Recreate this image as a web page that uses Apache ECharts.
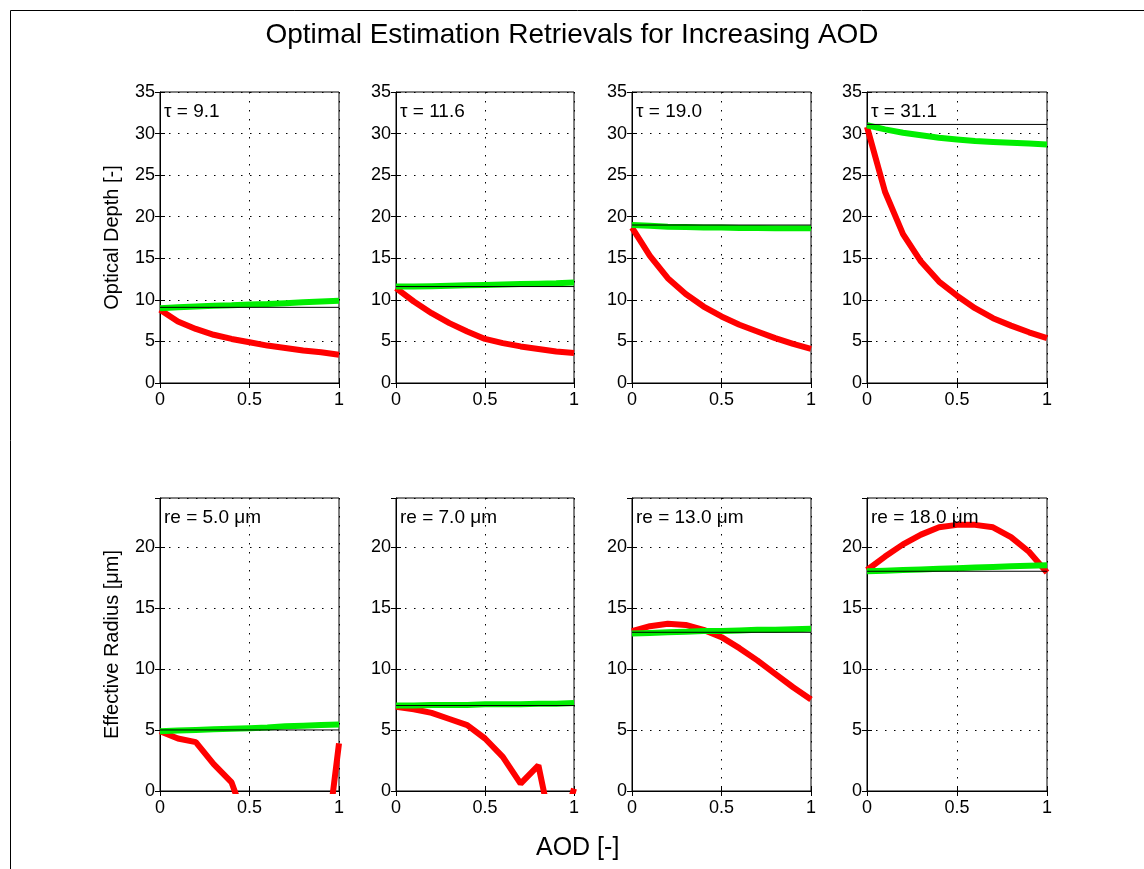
<!DOCTYPE html>
<html><head><meta charset="utf-8">
<script src="https://cdn.jsdelivr.net/npm/echarts@6/dist/echarts.min.js"></script>
<style>html,body{margin:0;padding:0;background:#fff}#c{width:1144px;height:869px}</style>
</head><body><div id="c"></div>
<script>
// AOD sample points (x axis)
const aod = [0, 0.1, 0.2, 0.3, 0.4, 0.5, 0.6, 0.7, 0.8, 0.9, 1.0];
const xTicks = [0, 0.5, 1];
const tauTickMax = 35;
const reTickMax = 24;

// Top row: optical depth panels
const tauTruth = [9.1, 11.6, 19.0, 31.1];
const tauRed1 = [8.8, 7.4, 6.5, 5.8, 5.3, 4.9, 4.5, 4.2, 3.9, 3.7, 3.4];
const tauRed2 = [11.4, 9.8, 8.4, 7.2, 6.2, 5.3, 4.8, 4.4, 4.1, 3.8, 3.6];
const tauRed3 = [18.7, 15.3, 12.6, 10.7, 9.2, 8.0, 7.0, 6.2, 5.4, 4.7, 4.1];
const tauRed4 = [30.8, 23.0, 17.9, 14.6, 12.2, 10.5, 9.0, 7.8, 6.9, 6.1, 5.4];
const tauGreen1 = [9.0, 9.1, 9.2, 9.3, 9.35, 9.45, 9.5, 9.6, 9.7, 9.8, 9.9];
const tauGreen2 = [11.6, 11.6, 11.65, 11.7, 11.75, 11.8, 11.85, 11.9, 11.95, 12.0, 12.1];
const tauGreen3 = [19.0, 18.9, 18.8, 18.75, 18.7, 18.7, 18.65, 18.65, 18.6, 18.6, 18.6];
const tauGreen4 = [31.0, 30.5, 30.1, 29.8, 29.5, 29.3, 29.1, 29.0, 28.9, 28.8, 28.7];

// Bottom row: effective radius panels
const reTruth = [5.0, 7.0, 13.0, 18.0];
const reRed1 = [4.9, 4.3, 4.0, 2.2, 0.7, -3.4, -6, -8, -9, -8, 3.9];
const reRed2 = [6.9, 6.7, 6.4, 5.9, 5.4, 4.3, 2.8, 0.6, 2.1, -4.9, 0.2];
const reRed3 = [13.1, 13.5, 13.7, 13.6, 13.2, 12.6, 11.7, 10.7, 9.6, 8.5, 7.5];
const reRed4 = [18.1, 19.2, 20.2, 21.0, 21.6, 21.8, 21.8, 21.6, 20.8, 19.6, 17.9];
const reGreen1 = [4.9, 4.95, 5.0, 5.05, 5.1, 5.15, 5.2, 5.3, 5.35, 5.4, 5.45];
const reGreen2 = [7.0, 7.0, 7.05, 7.05, 7.05, 7.1, 7.1, 7.1, 7.15, 7.15, 7.2];
const reGreen3 = [12.9, 12.95, 13.0, 13.05, 13.1, 13.1, 13.15, 13.2, 13.2, 13.25, 13.3];
const reGreen4 = [18.0, 18.05, 18.1, 18.15, 18.2, 18.25, 18.3, 18.35, 18.4, 18.45, 18.5];

const titleText = 'Optimal Estimation Retrievals for Increasing AOD';
const xName = 'AOD [-]';
const tauName = 'Optical Depth [-]';
const reName = 'Effective Radius [\u03bcm]';

const panels = [
  {row: 0, col: 0, red: tauRed1, green: tauGreen1, truth: tauTruth[0], label: '\u03c4 = 9.1'},
  {row: 0, col: 1, red: tauRed2, green: tauGreen2, truth: tauTruth[1], label: '\u03c4 = 11.6'},
  {row: 0, col: 2, red: tauRed3, green: tauGreen3, truth: tauTruth[2], label: '\u03c4 = 19.0'},
  {row: 0, col: 3, red: tauRed4, green: tauGreen4, truth: tauTruth[3], label: '\u03c4 = 31.1'},
  {row: 1, col: 0, red: reRed1, green: reGreen1, truth: reTruth[0], label: 're = 5.0 \u03bcm'},
  {row: 1, col: 1, red: reRed2, green: reGreen2, truth: reTruth[1], label: 're = 7.0 \u03bcm'},
  {row: 1, col: 2, red: reRed3, green: reGreen3, truth: reTruth[2], label: 're = 13.0 \u03bcm'},
  {row: 1, col: 3, red: reRed4, green: reGreen4, truth: reTruth[3], label: 're = 18.0 \u03bcm'}
];

const FONT = 'Liberation Sans, Arial, Helvetica, sans-serif';
const lefts = [160, 396, 632, 867];
const widths = [179, 178, 179, 180];
const tops = [92, 498];
const heights = [291, 293];
const DOT = [1.5, 7.5];

const grid = [], xAxis = [], yAxis = [], series = [], graphic = [];

panels.forEach((p, i) => {
  const L = lefts[p.col], T = tops[p.row];
  grid.push({left: L, top: T, width: widths[p.col], height: heights[p.row],
    show: true, borderColor: '#000', borderWidth: 1, backgroundColor: '#fff'});
  const ymax = p.row === 0 ? tauTickMax : reTickMax;
  xAxis.push({gridIndex: i, type: 'value', min: 0, max: 1, interval: 0.5,
    axisLine: {show: true, lineStyle: {color: '#000', width: 1}},
    axisTick: {show: true, inside: true, length: 5, lineStyle: {color: '#000'}},
    axisLabel: {color: '#000', fontSize: 18, fontFamily: FONT, margin: 8,
      formatter: v => String(v)},
    splitLine: {show: true, lineStyle: {color: '#000', type: DOT, width: 1}}
  });
  yAxis.push({gridIndex: i, type: 'value', min: 0, max: ymax, interval: 5,
    axisLine: {show: true, lineStyle: {color: '#000', width: 1}},
    axisTick: {show: true, inside: true, length: 5, lineStyle: {color: '#000'}},
    axisLabel: {color: '#000', fontSize: 18, fontFamily: FONT, margin: 5, showMaxLabel: p.row === 0},
    splitLine: {show: true, lineStyle: {color: '#000', type: DOT, width: 1}},
    name: p.col === 0 ? (p.row === 0 ? tauName : reName) : '',
    nameLocation: 'middle', nameGap: 38,
    nameTextStyle: {color: '#000', fontSize: 20, fontFamily: FONT}
  });
  series.push({type: 'line', xAxisIndex: i, yAxisIndex: i, data: aod.map((x, k) => [x, p.red[k]]),
    showSymbol: false, lineStyle: {color: '#ff0000', width: 6}, clip: true, z: 2, silent: true});
  series.push({type: 'line', xAxisIndex: i, yAxisIndex: i, data: aod.map((x, k) => [x, p.green[k]]),
    showSymbol: false, lineStyle: {color: '#00ee00', width: 6}, clip: true, z: 3, silent: true});
  series.push({type: 'line', xAxisIndex: i, yAxisIndex: i, data: [[aod[0], p.truth], [aod[aod.length - 1], p.truth]],
    showSymbol: false, lineStyle: {color: '#000', width: 1}, clip: true, z: 4, silent: true});
  graphic.push({type: 'text', left: L + 4, top: T + 10, z: 100,
    style: {text: p.label, fill: '#000', font: '19px ' + FONT}});
});

// top/right tick-only axes (box ticks)
panels.forEach((p, i) => {
  const ymax = p.row === 0 ? tauTickMax : reTickMax;
  xAxis.push({gridIndex: i, type: 'value', position: 'top', min: 0, max: 1, interval: 0.5,
    axisLine: {show: false}, axisTick: {show: true, inside: true, length: 5, lineStyle: {color: '#000'}},
    axisLabel: {show: false}, splitLine: {show: false}});
  yAxis.push({gridIndex: i, type: 'value', position: 'right', min: 0, max: ymax, interval: 5,
    axisLine: {show: false}, axisTick: {show: true, inside: true, length: 5, lineStyle: {color: '#000'}},
    axisLabel: {show: false}, splitLine: {show: false}});
});

graphic.push({type: 'rect', left: 8, top: 8, z: -10, silent: true,
  shape: {width: 1150, height: 900}, style: {fill: 'none', stroke: '#000', lineWidth: 1}});
graphic.push({type: 'text', left: 'center', top: 21, z: 100,
  style: {text: titleText, fill: '#000', font: '28px ' + FONT}});
graphic.push({type: 'text', left: 536, top: 836, z: 100,
  style: {text: xName, fill: '#000', font: '25px ' + FONT}});

const chart = echarts.init(document.getElementById('c'), null, {renderer: 'canvas'});
chart.setOption({backgroundColor: '#fff', animation: false, grid, xAxis, yAxis, series, graphic});
</script></body></html>
